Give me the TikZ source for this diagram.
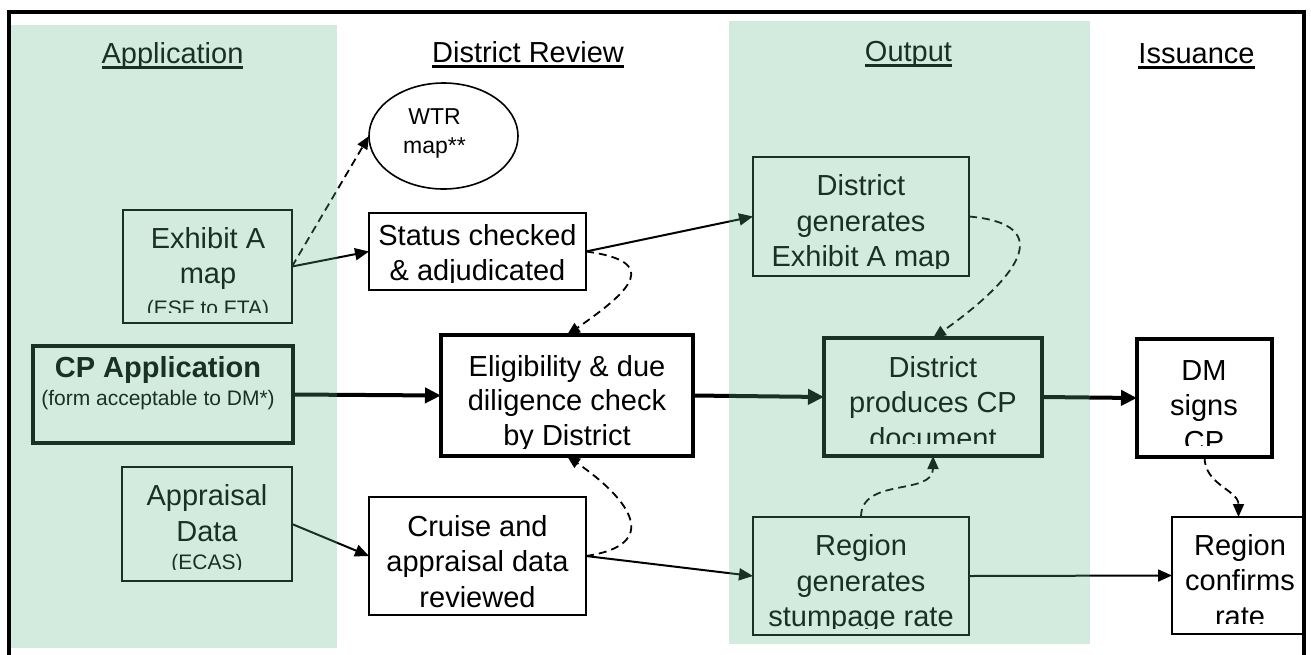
\documentclass[tikz,border=0pt]{standalone}
\usepackage{fontspec}
\setmainfont{Liberation Sans}
\usetikzlibrary{shapes.geometric,fit,arrows.meta}
\definecolor{bandgreen}{RGB}{95,180,135}
\begin{document}
\begin{tikzpicture}[x=0.5pt,y=-0.5pt,
  every node/.style={inner sep=0pt, outer sep=0pt},
  box/.style={draw=black, fill=white, line width=0.8pt, inner sep=0pt},
  heavybox/.style={draw=black, fill=white, line width=1.75pt, inner sep=0pt},
  txt/.style={align=center, anchor=base, font=\fontsize{14.5pt}{17.75pt}\selectfont},
  hdr/.style={anchor=base, font=\fontsize{14.5pt}{17.75pt}\selectfont},
  link/.style={line width=1pt, -{Triangle[length=7pt,width=6pt]}},
  heavylink/.style={line width=2pt, -{Triangle[length=8pt,width=7.5pt]}},
  dashlink/.style={line width=0.9pt, dash pattern=on 4pt off 2.5pt, -{Triangle[length=6.5pt,width=5.5pt]}},
  band/.style={fill=bandgreen, fill opacity=0.27, draw=none},
]
\useasboundingbox (0,0) rectangle (1311,654);
\clip (0,0) rectangle (1311,654);
\fill[white] (0,0) rectangle (1311,654);

% column headings
\node[hdr] (hApp) at (172.5,63) {Application};
\node[hdr] (hRev) at (528,62.5) {District Review};
\node[hdr] (hOut) at (908.5,61.5) {Output};
\node[hdr] (hIss) at (1196.5,63) {Issuance};
\foreach \h in {hApp,hRev,hOut,hIss}
  \draw[line width=1.5pt] ([yshift=-2.1pt]\h.base west) -- ([yshift=-2.1pt]\h.base east);

% boxes
\node[box, fit={(123,210) (292,323)}] (exh) {};
\node[heavybox, fit={(33,346) (293,443)}] (cp) {};
\node[box, fit={(122,467) (292,581)}] (ap) {};
\node[box, fit={(369,213) (586,290)}] (st) {};
\node[heavybox, fit={(441,335) (693,456)}] (el) {};
\node[box, fit={(369,497) (586,615)}] (cr) {};
\node[box, fit={(753,157) (969,276)}] (dg) {};
\node[heavybox, fit={(824,338) (1042,456)}] (pr) {};
\node[heavybox, fit={(1137,339) (1272,457)}] (dm) {};
\node[box, fit={(753,517) (969,635)}] (rg) {};
\node[box, fit={(1172,517) (1305,634)}] (rc) {};
\node[ellipse, draw=black, fill=white, line width=0.8pt, minimum width=74.5pt, minimum height=53pt] (wtr) at (443.5,136) {};

% box texts (anchored at the baseline of their last line), cut off at the inner margin of each box
\node[anchor=base, align=center, font=\fontsize{11.5pt}{14.5pt}\selectfont] (wtr-t) at (434.5,153) {WTR\\map**};
\begin{scope}
  \clip (123,210) rectangle (292,312);
  \node[txt] (exh-t) at (208,315.5) {Exhibit A\\map\\[-1.75pt]{\fontsize{10.5pt}{12pt}\selectfont (ESF to FTA)}};
\end{scope}
\node[txt] (cp-t) at (158,405) {\textbf{CP Application}\\[-3.75pt]{\fontsize{10.5pt}{12pt}\selectfont (form acceptable to DM*)}};
\begin{scope}
  \clip (122,467) rectangle (292,569);
  \node[txt] (ap-t) at (207,569.7) {Appraisal\\[0.6pt]Data\\[-3.75pt]{\fontsize{10.5pt}{12pt}\selectfont (ECAS)}};
\end{scope}
\begin{scope}
  \clip (369,213) rectangle (586,282);
  \node[txt] (st-t) at (477.5,280.5) {Status checked\\\& adjudicated};
\end{scope}
\begin{scope}
  \clip (441,335) rectangle (693,448);
  \node[txt] (el-t) at (567,445) {Eligibility \& due\\[-0.5pt]diligence check\\[-0.5pt]by District};
\end{scope}
\begin{scope}
  \clip (369,497) rectangle (586,609);
  \node[txt] (cr-t) at (477.5,607) {Cruise and\\appraisal data\\reviewed};
\end{scope}
\begin{scope}
  \clip (753,157) rectangle (969,268);
  \node[txt] (dg-t) at (861,266.5) {District\\generates\\Exhibit A map};
\end{scope}
\begin{scope}
  \clip (824,338) rectangle (1042,443);
  \node[txt] (pr-t) at (933,448) {District\\produces CP\\document};
\end{scope}
\begin{scope}
  \clip (1137,339) rectangle (1272,445);
  \node[txt] (dm-t) at (1204,451) {DM\\signs\\CP};
\end{scope}
\begin{scope}
  \clip (753,517) rectangle (969,628);
  \node[txt] (rg-t) at (861,626.5) {Region\\generates\\stumpage rate};
\end{scope}
\begin{scope}
  \clip (1172,517) rectangle (1305,623);
  \node[txt] (rc-t) at (1240,626) {Region\\confirms\\rate};
\end{scope}

% connectors
\draw[dashlink] (exh.east) -- (wtr.west);
\draw[link] (exh.east) -- (st.west);
\draw[link] (st.east) -- (dg.west);
\draw[heavylink] (cp.east) -- (el.west);
\draw[heavylink] (el.east) -- (pr.west);
\draw[heavylink] (pr.east) -- (dm.west);
\draw[link] (ap.east) -- (cr.west);
\draw[link] (cr.east) -- (rg.west);
\draw[link] (rg.east) -- (rc.west);
\draw[dashlink] (st.east) .. controls +(75,10) and +(65,-45) .. (el.north);
\draw[dashlink] (cr.east) .. controls +(75,-11) and +(65,45) .. (el.south);
\draw[dashlink] (dg.east) .. controls +(91,8) and +(82,-58) .. (pr.north);
\draw[dashlink] (rg.north) .. controls +(0,-40) and +(0,40) .. (pr.south);
\draw[dashlink] (dm.south) .. controls +(0,28) and +(0,-27) .. (rc.north);

% shaded columns laid over the drawing
\fill[band] (10.5,25) rectangle (337,648);
\fill[band] (729,21) rectangle (1090,644);

% outer frame
\draw[line width=1.75pt] (9,12) rectangle (1304,690);
\end{tikzpicture}
\end{document}
